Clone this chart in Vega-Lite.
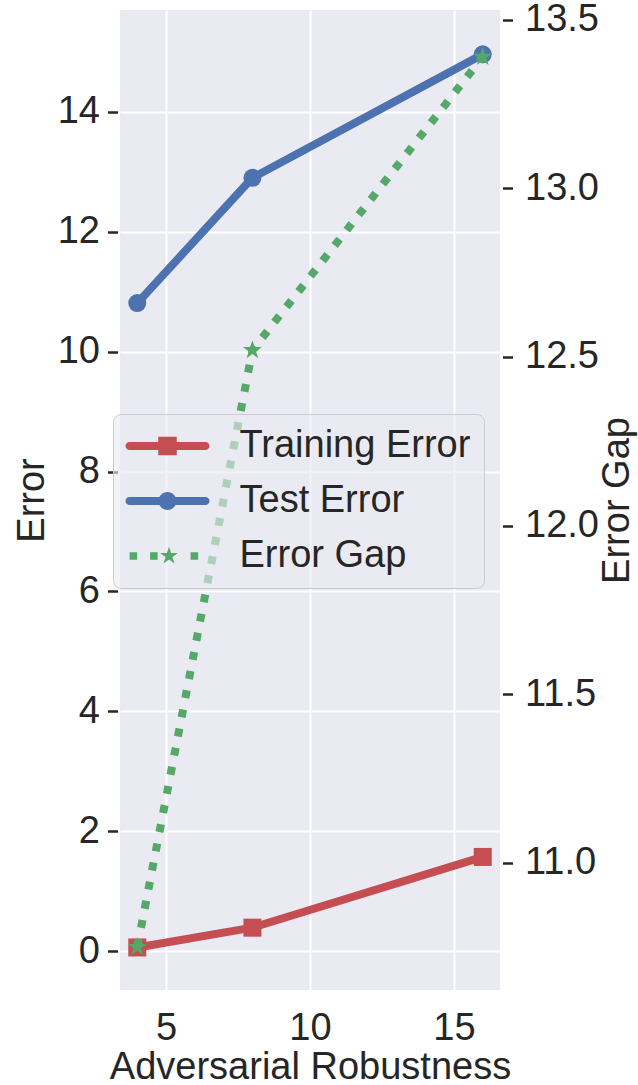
{
  "$schema": "https://vega.github.io/schema/vega-lite/v6.json",
  "width": 380,
  "height": 980,
  "autosize": {"type": "none"},
  "padding": {"left": 120, "top": 10, "right": 138, "bottom": 95},
  "background": "white",
  "config": {
    "view": {"fill": "#EAEAF2", "stroke": null},
    "font": "Liberation Sans",
    "axis": {
      "domain": false,
      "grid": false,
      "labelFont": "Liberation Sans",
      "labelFontSize": 38,
      "labelColor": "#262626",
      "titleFont": "Liberation Sans",
      "titleFontSize": 38,
      "titleColor": "#262626",
      "titleFontWeight": "normal",
      "tickColor": "#262626",
      "tickWidth": 2.5,
      "tickSize": 10,
      "gridColor": "white",
      "gridWidth": 2,
      "labelFlush": false,
      "labelOverlap": false
    }
  },
  "data": {
    "values": [
      {"x": 4, "series": "Training Error", "value": 0.06},
      {"x": 8, "series": "Training Error", "value": 0.39},
      {"x": 16, "series": "Training Error", "value": 1.57},
      {"x": 4, "series": "Test Error", "value": 10.81},
      {"x": 8, "series": "Test Error", "value": 12.9},
      {"x": 16, "series": "Test Error", "value": 14.96},
      {"x": 4, "series": "Error Gap", "value": 10.75},
      {"x": 8, "series": "Error Gap", "value": 12.52},
      {"x": 16, "series": "Error Gap", "value": 13.39}
    ]
  },
  "layer": [
    {
      "transform": [{"filter": "datum.series !== 'Error Gap'"}],
      "encoding": {
        "x": {
          "field": "x", "type": "quantitative",
          "scale": {"domain": [3.4, 16.6], "nice": false, "zero": false},
          "axis": {"values": [5, 10, 15], "grid": true, "ticks": false, "tickSize": 0, "labelPadding": 19, "title": "Adversarial Robustness", "titlePadding": 1}
        },
        "y": {
          "field": "value", "type": "quantitative",
          "scale": {"domain": [-0.65, 15.7], "nice": false, "zero": false},
          "axis": {"orient": "left", "values": [0, 2, 4, 6, 8, 10, 12, 14], "grid": true, "title": "Error", "titlePadding": 6, "labelPadding": 8, "offset": 2.5, "titleAngle": 270, "titleBaseline": "bottom"}
        }
      },
      "layer": [
        {
          "mark": {"type": "line", "strokeWidth": 8, "strokeJoin": "round", "strokeCap": "butt"},
          "encoding": {
            "color": {
              "field": "series", "type": "nominal",
              "scale": {"domain": ["Training Error", "Test Error", "Error Gap"], "range": ["#C44E52", "#4C72B0", "#55A868"]},
              "legend": {
                "orient": "none", "legendX": -7, "legendY": 404, "title": null,
                "labelFontSize": 38, "labelFont": "Liberation Sans", "labelColor": "#262626",
                "symbolSize": 1296, "symbolOffset": 22.5, "labelOffset": 53, "rowPadding": 17, "padding": 13,
                "fillColor": "rgba(234,234,242,0.6)", "strokeColor": "#CCCCCC", "cornerRadius": 8, "labelLimit": 0,
                "encode": {
                  "symbols": {
                    "update": {
                      "shape": {"signal": "datum.value === 'Training Error' ? 'M-2.111,-0.222H2.111C2.234,-0.222 2.333,-0.123 2.333,0C2.333,0.123 2.234,0.222 2.111,0.222H-2.111C-2.234,0.222 -2.333,0.123 -2.333,0C-2.333,-0.123 -2.234,-0.222 -2.111,-0.222Z M-0.514,-0.514H0.514V0.514H-0.514Z' : datum.value === 'Test Error' ? 'M-2.111,-0.222H2.111C2.234,-0.222 2.333,-0.123 2.333,0C2.333,0.123 2.234,0.222 2.111,0.222H-2.111C-2.234,0.222 -2.333,0.123 -2.333,0C-2.333,-0.123 -2.234,-0.222 -2.111,-0.222Z M0.5,0C0.5,0.276 0.276,0.5 0,0.5C-0.276,0.5 -0.5,0.276 -0.5,0C-0.5,-0.276 -0.276,-0.5 0,-0.5C0.276,-0.5 0.5,-0.276 0.5,0Z' : 'M-2.107,-0.21H-1.687V0.21H-2.107Z M-0.968,-0.21H-0.548V0.21H-0.968Z M1.282,-0.21H1.702V0.21H1.282Z M0.083,-0.52L0.1996,-0.1607L0.5776,-0.1607L0.2718,0.0613L0.3888,0.4207L0.083,0.1987L-0.2228,0.4207L-0.1058,0.0613L-0.4116,-0.1607L-0.0336,-0.1607Z'"},
                      "fill": {"signal": "scale('color', datum.value)"},
                      "stroke": {"value": "transparent"},
                      "strokeWidth": {"value": 0},
                      "opacity": {"value": 1}
                    }
                  }
                }
              }
            }
          }
        },
        {
          "transform": [{"filter": "datum.series === 'Training Error'"}],
          "mark": {"type": "point", "shape": "square", "size": 324, "filled": true, "color": "#C44E52", "opacity": 1}
        },
        {
          "transform": [{"filter": "datum.series === 'Test Error'"}],
          "mark": {"type": "point", "shape": "circle", "size": 324, "filled": true, "color": "#4C72B0", "opacity": 1}
        }
      ]
    },
    {
      "transform": [{"filter": "datum.series === 'Error Gap'"}],
      "encoding": {
        "x": {
          "field": "x", "type": "quantitative",
          "scale": {"domain": [3.4, 16.6], "nice": false, "zero": false},
          "axis": {"values": [5, 10, 15], "grid": true, "ticks": false, "tickSize": 0, "labelPadding": 19, "title": "Adversarial Robustness", "titlePadding": 1}
        },
        "y": {
          "field": "value", "type": "quantitative",
          "scale": {"domain": [10.6225, 13.529], "nice": false, "zero": false},
          "axis": {"orient": "right", "values": [11, 11.5, 12, 12.5, 13, 13.5], "format": ".1f", "grid": false, "title": "Error Gap", "titleAngle": 270, "titleBaseline": "top", "titlePadding": 0, "labelPadding": 12, "offset": 2.5}
        }
      },
      "layer": [
        {
          "mark": {"type": "line", "strokeWidth": 8, "strokeCap": "butt", "strokeDash": [8, 11.5], "color": "#55A868"}
        },
        {
          "mark": {"type": "point", "shape": "M0,-1L0.2245,-0.309L0.9511,-0.309L0.3633,0.118L0.5878,0.809L0,0.382L-0.5878,0.809L-0.3633,0.118L-0.9511,-0.309L-0.2245,-0.309Z", "size": 400, "filled": true, "color": "#55A868", "opacity": 1}
        }
      ]
    }
  ],
  "resolve": {"scale": {"y": "independent"}}
}
